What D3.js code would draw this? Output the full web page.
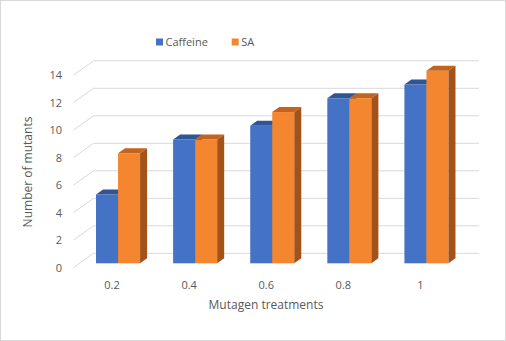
<!DOCTYPE html>
<html>
<head>
<meta charset="utf-8">
<script src="https://cdn.jsdelivr.net/npm/d3@7"></script>
<style>
  body { margin: 0; background: #fff; }
  text { font-family: "Open Sans", sans-serif; fill: #595959; }
</style>
</head>
<body>
<div id="chart"></div>
<script>
const categories = ["0.2", "0.4", "0.6", "0.8", "1"];
const seriesNames = ["Caffeine", "SA"];
const caffeine = [5, 9, 10, 12, 13];
const sa = [8, 9, 11, 12, 14];
const yTicks = [0, 2, 4, 6, 8, 10, 12, 14];

const W = 506, H = 341;
// colours per series: front, top, side
const colors = {
    Caffeine: { front: "#4472C4", top: "#2F5597", side: "#2B4F8C" },
    SA: { front: "#F4862F", top: "#C4631E", side: "#A3521A" }
};
// 3d offsets, relative to the front face of the bars
const wall = { dx: 14, dy: -10 };
const floorFront = { dx: -6, dy: 4.3 };
const depth = { dx: 7, dy: -5 };

const svg = d3.select("#chart").append("svg")
    .attr("width", W)
    .attr("height", H);

svg.append("rect")
    .attr("x", 0.5).attr("y", 0.5)
    .attr("width", W - 1).attr("height", H - 1)
    .attr("fill", "#fff")
    .attr("stroke", "#d9d9d9");

const x = d3.scaleBand()
    .domain(categories)
    .range([79.5, 465])
    .paddingInner(0);

const xs = d3.scaleBand()
    .domain(seriesNames)
    .range([0, x.bandwidth()])
    .paddingInner(0)
    .paddingOuter(0.75);

const y = d3.scaleLinear()
    .domain([0, 14])
    .range([263.3, 70.8]);

// back wall and floor gridlines
const grid = svg.append("g")
    .attr("stroke", "#d9d9d9")
    .attr("stroke-width", 1)
    .attr("fill", "none");

const x0 = x.range()[0], x1 = x.range()[1];
grid.selectAll("line.back")
    .data(yTicks)
    .join("line")
    .attr("class", "back")
    .attr("x1", x0 + wall.dx)
    .attr("x2", x1 + wall.dx)
    .attr("y1", d => y(d) + wall.dy)
    .attr("y2", d => y(d) + wall.dy);

grid.selectAll("line.side")
    .data(yTicks)
    .join("line")
    .attr("class", "side")
    .attr("x1", x0 + floorFront.dx)
    .attr("y1", d => y(d) + floorFront.dy)
    .attr("x2", x0 + wall.dx)
    .attr("y2", d => y(d) + wall.dy);

// bars
const rows = categories.map((c, i) => ({
    cat: c,
    values: [
        { key: "Caffeine", v: caffeine[i] },
        { key: "SA", v: sa[i] }
    ]
}));

const bars = svg.append("g");
rows.forEach(r => {
    r.values.forEach(s => {
        const bx0 = x(r.cat) + xs(s.key);
        const bx1 = bx0 + xs.bandwidth();
        const yt = y(s.v), yb = y(0);
        const c = colors[s.key];
        const g = bars.append("g");
        g.append("rect")
            .attr("x", bx0).attr("y", yt)
            .attr("width", bx1 - bx0).attr("height", yb - yt)
            .attr("fill", c.front);
        g.append("polygon")
            .attr("points", [[bx0, yt], [bx1, yt], [bx1 + depth.dx, yt + depth.dy], [bx0 + depth.dx, yt + depth.dy]].join(" "))
            .attr("fill", c.top);
        g.append("polygon")
            .attr("points", [[bx1, yt], [bx1 + depth.dx, yt + depth.dy], [bx1 + depth.dx, yb + depth.dy], [bx1, yb]].join(" "))
            .attr("fill", c.side);
    });
});

// axes
const yAxis = svg.append("g")
    .attr("transform", `translate(65,${floorFront.dy})`)
    .call(d3.axisLeft(y).tickValues(yTicks).tickSize(0).tickPadding(3));
yAxis.select(".domain").remove();
yAxis.selectAll("text")
    .style("font-family", "'Open Sans', sans-serif")
    .style("font-size", "11px")
    .attr("fill", "#595959");

const xAxis = svg.append("g")
    .attr("transform", `translate(${floorFront.dx},278)`)
    .call(d3.axisBottom(x).tickSize(0).tickPadding(3));
xAxis.select(".domain").remove();
xAxis.selectAll("text")
    .style("font-family", "'Open Sans', sans-serif")
    .style("font-size", "11px")
    .attr("fill", "#595959");

// axis titles
svg.append("text")
    .attr("x", 266)
    .attr("y", 308.5)
    .attr("text-anchor", "middle")
    .style("font-size", "12px")
    .text("Mutagen treatments");

svg.append("text")
    .attr("transform", "translate(32,172) rotate(-90)")
    .attr("text-anchor", "middle")
    .style("font-size", "12px")
    .text("Number of mutants");

// legend
const legendX = [156, 231.7];
const legend = svg.append("g");
seriesNames.forEach((n, i) => {
    legend.append("rect")
        .attr("x", legendX[i]).attr("y", 38.5)
        .attr("width", 7).attr("height", 7)
        .attr("fill", colors[n].front);
    legend.append("text")
        .attr("x", legendX[i] + 9.5)
        .attr("y", 46)
        .style("font-size", "11px")
        .text(n);
});
</script>
</body>
</html>
